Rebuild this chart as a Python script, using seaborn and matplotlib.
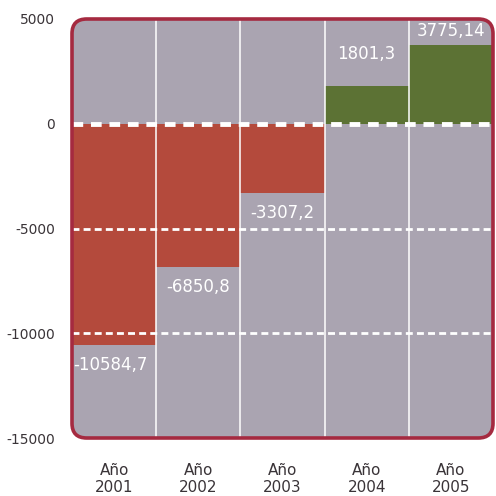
import pandas as pd
import numpy as np
import seaborn as sns
import matplotlib.pyplot as plt
from matplotlib.patches import FancyBboxPatch

# Data
years = ["Año\n2001", "Año\n2002", "Año\n2003", "Año\n2004", "Año\n2005"]
values = [-10584.7, -6850.8, -3307.2, 1801.3, 3775.14]
value_labels = ["-10584,7", "-6850,8", "-3307,2", "1801,3", "3775,14"]
y_ticks = [5000, 0, -5000, -10000, -15000]

BG = "#aaa4b1"
RED = "#b44a3c"
GREEN = "#5c7234"
BORDER = "#a52a40"
TEXT = "#3a3438"

df = pd.DataFrame({"year": years, "value": values})
df["sign"] = np.where(df["value"] < 0, "neg", "pos")

sns.set_theme(style="white")
plt.rcParams["font.family"] = ["DejaVu Sans"]

fig = plt.figure(figsize=(4.96, 4.96), dpi=100)
ax = fig.add_axes([72 / 496, (496 - 438) / 496, (493 - 72) / 496, (438 - 19) / 496])

# rounded background + border on top
ax.patch.set_visible(False)
box = dict(boxstyle="round,pad=0,rounding_size=0.035", transform=ax.transAxes, clip_on=False)
bg = FancyBboxPatch((0, 0), 1, 1, facecolor=BG, edgecolor="none", zorder=0, **box)
ax.add_patch(bg)
frame = FancyBboxPatch((0, 0), 1, 1, facecolor="none", edgecolor=BORDER,
                       linewidth=2.6, zorder=6, **box)
ax.add_patch(frame)

sns.barplot(data=df, x="year", y="value", hue="sign",
            palette={"neg": RED, "pos": GREEN}, width=1.0,
            legend=False, ax=ax, zorder=2, saturation=1, linewidth=0)
for p in ax.patches:
    if p is not bg and p is not frame:
        p.set_clip_path(bg)

ax.set_xlim(-0.5, 4.5)
ax.set_ylim(-15000, 5000)

# separators and dashed grid
for xv in [0.5, 1.5, 2.5, 3.5]:
    ax.axvline(xv, color="white", lw=1.1, zorder=3)
ax.axhline(0, color="white", lw=3.5, ls=(0, (2.2, 1.6)), zorder=4)
for yv in [-5000, -10000]:
    ax.axhline(yv, color="white", lw=2, ls=(0, (2.5, 1.5)), zorder=4)

# value labels (white, under negative bars / above positive bars)
pos_offsets = [1100, 200]
for i, (v, lab) in enumerate(zip(values, value_labels)):
    if v < 0:
        xpos = i - 0.48 if i == 0 else i
        ha = "left" if i == 0 else "center"
        ax.text(xpos, v - 500, lab, ha=ha, va="top", color="white",
                fontsize=12, zorder=5)
    else:
        ax.text(i, v + pos_offsets[i - 3], lab, ha="center", va="bottom",
                color="white", fontsize=12, zorder=5)

ax.set_yticks(y_ticks)
ax.set_yticklabels([str(t) for t in y_ticks])
ax.tick_params(axis="y", length=0, pad=12, labelsize=10, labelcolor=TEXT)
ax.tick_params(axis="x", length=0, pad=18, labelsize=11, labelcolor=TEXT)
ax.set_xlabel("")
ax.set_ylabel("")
for s in ax.spines.values():
    s.set_visible(False)

fig.savefig("out.png", dpi=100, facecolor="white")
